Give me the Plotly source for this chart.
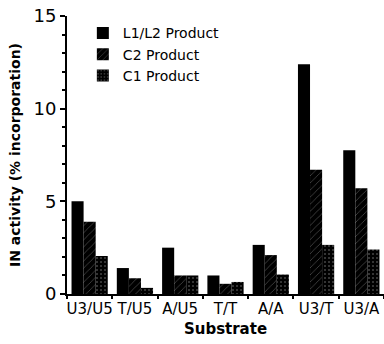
import plotly.graph_objects as go

categories = ["U3/U5", "T/U5", "A/U5", "T/T", "A/A", "U3/T", "U3/A"]
l1l2 = [5.0, 1.4, 2.5, 1.0, 2.65, 12.4, 7.75]
c2 = [3.9, 0.85, 1.0, 0.55, 2.1, 6.7, 5.7]
c1 = [2.05, 0.33, 1.0, 0.65, 1.05, 2.65, 2.4]
series_names = ["L1/L2 Product", "C2 Product", "C1 Product"]

FONT = "DejaVu Sans"

fig = go.Figure()
patterns = [
    dict(shape="", ),
    dict(shape="/", bgcolor="black", fgcolor="#9a9a9a", size=5, solidity=0.15),
    dict(shape=".", bgcolor="black", fgcolor="#8a8a8a", size=4, solidity=0.2),
]
for name, vals, pat in zip(series_names, [l1l2, c2, c1], patterns):
    marker = dict(color="black", line=dict(width=0))
    if pat["shape"]:
        marker["pattern"] = pat
    fig.add_trace(go.Bar(x=categories, y=vals, name=name, marker=marker))

fig.update_layout(
    width=384, height=344,
    margin=dict(l=67, r=0, t=16, b=50),
    paper_bgcolor="white", plot_bgcolor="white",
    barmode="group", bargap=0.2, bargroupgap=0,
    font=dict(family=FONT, size=14, color="black"),
    showlegend=True,
    legend=dict(x=0.05, y=0.995, xanchor="left", yanchor="top",
                bgcolor="rgba(0,0,0,0)", font=dict(size=14),
                itemwidth=30, tracegroupgap=0),
    xaxis=dict(
        showline=True, linecolor="black", linewidth=2,
        ticks="outside", tickson="boundaries", ticklen=3, tickwidth=2, tickcolor="black",
        showgrid=False, tickfont=dict(size=15), tickangle=0,
        title=dict(text="<b>Substrate</b>", font=dict(size=15), standoff=6),
    ),
    yaxis=dict(
        range=[0, 15], tickvals=[0, 5, 10, 15],
        showline=True, linecolor="black", linewidth=2,
        ticks="outside", ticklen=5, tickwidth=2, tickcolor="black",
        minor=dict(ticks="outside", ticklen=3, tickwidth=1.5, dtick=1, tickcolor="black"),
        showgrid=False, zeroline=False, tickfont=dict(size=18),
        title=dict(text="<b>IN activity (% incorporation)</b>", font=dict(size=14), standoff=10),
    ),
)

fig.write_html("out.html", config={"displayModeBar": False},
               post_script="document.body.style.margin='0';")
